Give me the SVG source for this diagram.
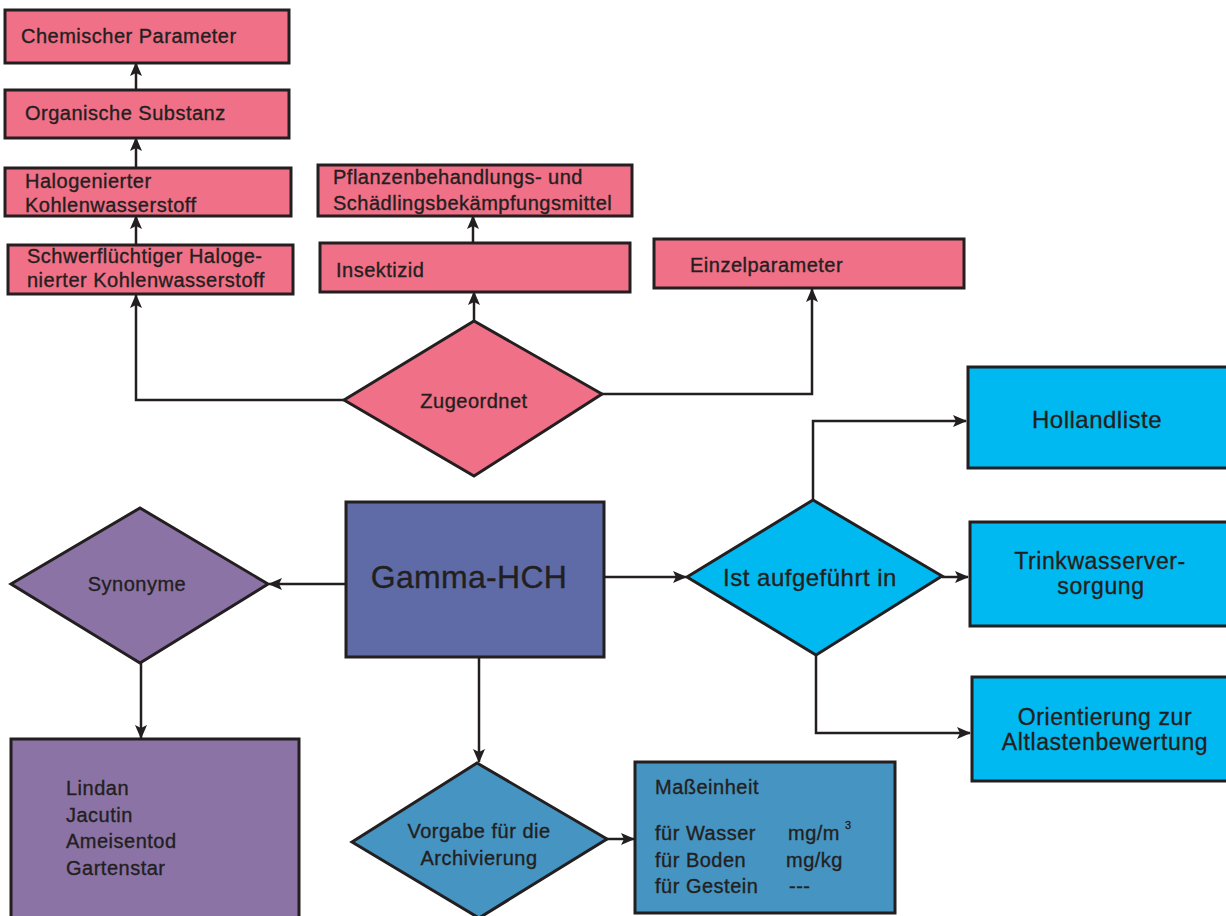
<svg xmlns="http://www.w3.org/2000/svg" width="1226" height="916" viewBox="0 0 1226 916">
<style>
.b{stroke:#231f20;stroke-width:3}
.pk{fill:#f07087}
.cy{fill:#00b9f0}
.pu{fill:#8b73a6}
.gm{fill:#5e6ba6}
.bl{fill:#4594c2}
text{font-family:"Liberation Sans",Arial,sans-serif;fill:#231f20;stroke:#231f20;stroke-width:0.35}
.t{font-size:20px;letter-spacing:0.5px}
.m{font-size:24px;letter-spacing:0.5px;text-anchor:middle}
.m2{font-size:23px;letter-spacing:0.6px;text-anchor:middle}
.c{text-anchor:middle}
.e path,.e polyline{fill:none;stroke:#231f20;stroke-width:2.5;marker-end:url(#a)}
</style>
<defs>
<marker id="a" markerUnits="userSpaceOnUse" markerWidth="14" markerHeight="12" viewBox="0 0 14 12" refX="13" refY="6" orient="auto">
<path d="M0,0 L14,6 L0,12 L3,6 z" fill="#231f20"/>
</marker>
</defs>
<g class="e" id="connectors">
<path d="M136,90 V63"/>
<path d="M136,167 V138"/>
<path d="M136,245 V216"/>
<path d="M473,243 V216"/>
<polyline points="344,400 136,400 136,295"/>
<path d="M474,321 V292"/>
<polyline points="602,394 812,394 812,289"/>
<path d="M346,584 H269"/>
<path d="M141,634 V738"/>
<path d="M479,657 V762"/>
<path d="M604,577 H686"/>
<polyline points="813,500 813,421 966,421"/>
<path d="M942,577 H968"/>
<polyline points="816,655 816,733 970,733"/>
<path d="M607,839 H634"/>
</g>
<g id="chemischer"><rect class="b pk" x="5" y="10" width="284" height="53"/><text class="t" x="21" y="43">Chemischer Parameter</text></g>
<g id="organische"><rect class="b pk" x="5" y="90" width="284" height="48"/><text class="t" x="25" y="120">Organische Substanz</text></g>
<g id="halogenierter"><rect class="b pk" x="5" y="168" width="286" height="48"/><text class="t" x="25" y="188">Halogenierter</text><text class="t" x="25" y="212">Kohlenwasserstoff</text></g>
<g id="schwer"><rect class="b pk" x="8" y="245" width="285" height="49"/><text class="t" x="27" y="263">Schwerflüchtiger Haloge-</text><text class="t" x="27" y="287">nierter Kohlenwasserstoff</text></g>
<g id="pflanzen"><rect class="b pk" x="318" y="165" width="314" height="51"/><text class="t" x="333" y="184">Pflanzenbehandlungs- und</text><text class="t" x="333" y="210">Schädlingsbekämpfungsmittel</text></g>
<g id="insektizid"><rect class="b pk" x="320" y="243" width="310" height="49"/><text class="t" x="336" y="277">Insektizid</text></g>
<g id="einzel"><rect class="b pk" x="654" y="239" width="310" height="49"/><text class="t" x="690" y="272">Einzelparameter</text></g>
<g id="zugeordnet"><polygon class="b pk" points="344,400 474,321 602,394 474,476"/><text class="t c" x="474" y="408">Zugeordnet</text></g>
<g id="gamma"><rect class="b gm" x="346" y="502" width="258" height="155"/><text x="469" y="588" font-size="32" text-anchor="middle" letter-spacing="0.3">Gamma-HCH</text></g>
<g id="synonyme"><polygon class="b pu" points="11,584 140,508 268,584 140,663"/><text class="t c" x="137" y="591">Synonyme</text></g>
<g id="lindan"><rect class="b pu" x="11" y="739" width="288" height="185"/><text class="t" x="66" y="795">Lindan</text><text class="t" x="66" y="822">Jacutin</text><text class="t" x="66" y="848">Ameisentod</text><text class="t" x="66" y="875">Gartenstar</text></g>
<g id="ist"><polygon class="b cy" points="687,577 813,500 942,576 816,655"/><text class="m" x="810" y="586">Ist aufgeführt in</text></g>
<g id="holland"><rect class="b cy" x="968" y="367" width="262" height="101"/><text class="m" x="1097" y="428">Hollandliste</text></g>
<g id="trink"><rect class="b cy" x="970" y="522" width="260" height="104"/><text class="m2" x="1100" y="569">Trinkwasserver-</text><text class="m2" x="1101" y="594">sorgung</text></g>
<g id="orient"><rect class="b cy" x="972" y="677" width="258" height="104"/><text class="m2" x="1105" y="725">Orientierung zur</text><text class="m2" x="1105" y="750">Altlastenbewertung</text></g>
<g id="vorgabe"><polygon class="b bl" points="352,842 477,763 607,839 479,918"/><text class="t c" x="479" y="838">Vorgabe für die</text><text class="t c" x="479" y="865">Archivierung</text></g>
<g id="mass"><rect class="b bl" x="635" y="762" width="260" height="151"/><text class="t" x="655" y="794">Maßeinheit</text><text class="t" x="655" y="840">für Wasser</text><text class="t" x="788" y="840">mg/m</text><text x="845" y="829" font-size="11" stroke-width="0.2">3</text><text class="t" x="655" y="867">für Boden</text><text class="t" x="786" y="867">mg/kg</text><text class="t" x="655" y="893">für Gestein</text><text class="t" x="789" y="893">---</text></g>
</svg>
